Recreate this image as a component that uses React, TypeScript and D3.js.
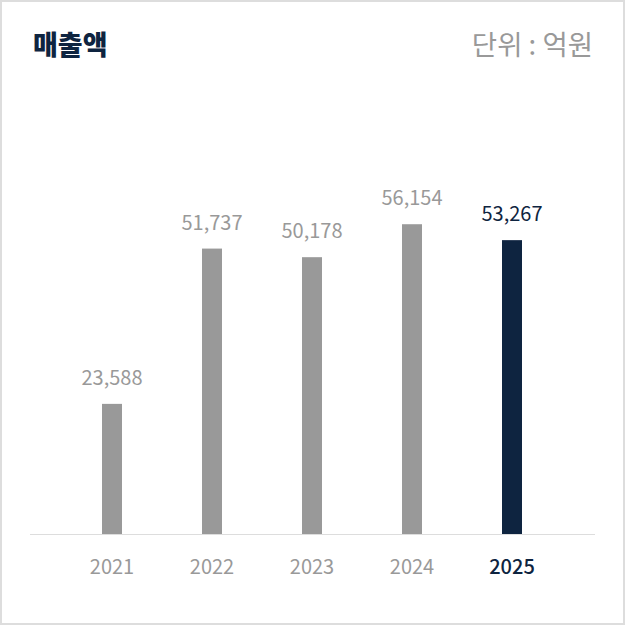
import { useEffect, useRef } from 'react';
import * as d3 from 'd3';

const years = ['2021', '2022', '2023', '2024', '2025'];
const sales = [23588, 51737, 50178, 56154, 53267];
const yDomain = [0, 60000];

const TITLE = '매출액';
const UNIT = '단위 : 억원';

const NAVY = '#0e2440';
const GRAY = '#999999';
const FONT = '"Noto Sans CJK KR", "Noto Sans", sans-serif';

const W = 625;
const H = 625;

const Chart = () => {
  const svgRef = useRef<SVGSVGElement>(null);

  useEffect(() => {
    const svg = d3.select(svgRef.current);
    svg.selectAll('*').remove();

    const last = years[years.length - 1];
    const data = years.map((y, i) => ({ year: y, value: sales[i] }));

    // outer frame
    svg.append('rect')
      .attr('x', 1).attr('y', 1)
      .attr('width', W - 2).attr('height', H - 2)
      .attr('fill', '#fff')
      .attr('stroke', '#dddddd')
      .attr('stroke-width', 2);

    svg.append('text')
      .attr('x', 33).attr('y', 55)
      .attr('font-family', FONT)
      .attr('font-size', 27)
      .attr('font-weight', 900)
      .attr('fill', NAVY)
      .text(TITLE);

    svg.append('text')
      .attr('x', 593).attr('y', 55)
      .attr('text-anchor', 'end')
      .attr('font-family', FONT)
      .attr('font-size', 27.5)
      .attr('fill', GRAY)
      .text(UNIT);

    const x = d3.scaleBand().domain(years).range([62, 562]);
    const y = d3.scaleLinear().domain(yDomain).range([534, 203]);
    const barW = 20;

    // baseline
    svg.append('line')
      .attr('x1', 30).attr('x2', 595)
      .attr('y1', y(0) + 0.5).attr('y2', y(0) + 0.5)
      .attr('stroke', '#dddddd')
      .attr('stroke-width', 1);

    svg.selectAll('.bar')
      .data(data)
      .join('rect')
      .attr('class', 'bar')
      .attr('x', d => (x(d.year) || 0) + x.bandwidth() / 2 - barW / 2)
      .attr('y', d => y(d.value))
      .attr('width', barW)
      .attr('height', d => y(0) - y(d.value))
      .attr('fill', d => (d.year === last ? NAVY : GRAY));

    svg.selectAll('.val')
      .data(data)
      .join('text')
      .attr('class', 'val')
      .attr('x', d => (x(d.year) || 0) + x.bandwidth() / 2)
      .attr('y', d => y(d.value) - 19)
      .attr('text-anchor', 'middle')
      .attr('font-family', FONT)
      .attr('font-size', 20)
      .attr('fill', d => (d.year === last ? NAVY : GRAY))
      .text(d => d3.format(',')(d.value));

    svg.selectAll('.yr')
      .data(data)
      .join('text')
      .attr('class', 'yr')
      .attr('x', d => (x(d.year) || 0) + x.bandwidth() / 2)
      .attr('y', 574)
      .attr('text-anchor', 'middle')
      .attr('font-family', FONT)
      .attr('font-size', 20)
      .attr('font-weight', d => (d.year === last ? 500 : 400))
      .attr('fill', d => (d.year === last ? NAVY : GRAY))
      .text(d => d.year);
  }, []);

  return (
    <svg
      ref={svgRef}
      width={W}
      height={H}
      style={{ position: 'absolute', left: 0, top: 0, display: 'block' }}
    />
  );
};

export default function App() {
  return <Chart />;
}
